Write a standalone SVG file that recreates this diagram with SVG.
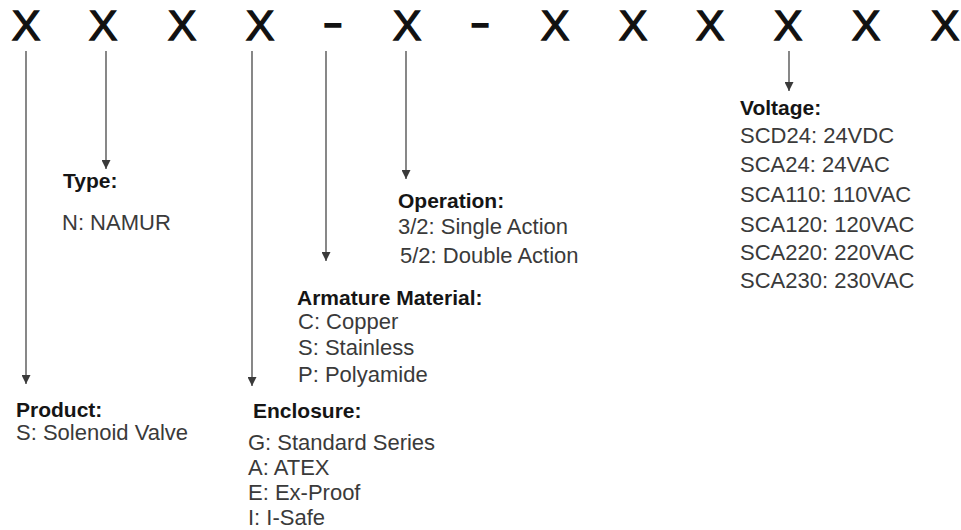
<svg xmlns="http://www.w3.org/2000/svg" width="961" height="530" viewBox="0 0 961 530">
<style>
.code{font-family:"Liberation Sans",Arial,sans-serif;font-size:43px;fill:#111;stroke:#111;stroke-width:1.3;text-anchor:middle}
.dash{font-family:"Liberation Sans",Arial,sans-serif;font-size:30px;fill:#111;stroke:#111;stroke-width:1.3;text-anchor:middle}
.lbl{font-family:"Liberation Sans",Arial,sans-serif;font-size:21px;font-weight:bold;fill:#151515}
.val{font-family:"Liberation Sans",Arial,sans-serif;font-size:22px;fill:#3a3a3a}
.conn line{stroke:#555;stroke-width:1.4;fill:none}
</style>
<defs>
<marker id="ah" viewBox="0 0 10 10" refX="10" refY="5" markerWidth="10" markerHeight="9" markerUnits="userSpaceOnUse" orient="auto">
<path d="M0,0 L10,5 L0,10 z" fill="#3a3a3a"/>
</marker>
</defs>
<rect width="961" height="530" fill="#fff"/>
<g id="code">
<text class="code" x="26" y="40">X</text>
<text class="code" x="103" y="40">X</text>
<text class="code" x="182" y="40">X</text>
<text class="code" x="260" y="40">X</text>
<text class="dash" x="169" y="27.6" transform="scale(1.97,1.297)">-</text>
<text class="code" x="407" y="40">X</text>
<text class="dash" x="243.7" y="27.6" transform="scale(1.97,1.297)">-</text>
<text class="code" x="555" y="40">X</text>
<text class="code" x="633" y="40">X</text>
<text class="code" x="710" y="40">X</text>
<text class="code" x="788" y="40">X</text>
<text class="code" x="866" y="40">X</text>
<text class="code" x="945" y="40">X</text>
</g>
<g class="conn" id="connectors">
<line x1="26" y1="51" x2="26" y2="384" marker-end="url(#ah)"/>
<line x1="106" y1="51" x2="106" y2="169" marker-end="url(#ah)"/>
<line x1="252" y1="51" x2="252" y2="386" marker-end="url(#ah)"/>
<line x1="326" y1="51" x2="326" y2="261" marker-end="url(#ah)"/>
<line x1="406" y1="51" x2="406" y2="179" marker-end="url(#ah)"/>
<line x1="789" y1="51" x2="789" y2="91" marker-end="url(#ah)"/>
</g>
<g id="product">
<text class="lbl" x="16" y="417">Product:</text>
<text class="val" x="16" y="440">S: Solenoid Valve</text>
</g>
<g id="type">
<text class="lbl" x="63" y="188">Type:</text>
<text class="val" x="62" y="230">N: NAMUR</text>
</g>
<g id="enclosure">
<text class="lbl" x="253" y="418">Enclosure:</text>
<text class="val" x="248" y="450">G: Standard Series</text>
<text class="val" x="248" y="475">A: ATEX</text>
<text class="val" x="248" y="500">E: Ex-Proof</text>
<text class="val" x="248" y="525">I: I-Safe</text>
</g>
<g id="armature">
<text class="lbl" x="297" y="305">Armature Material:</text>
<text class="val" x="298" y="329">C: Copper</text>
<text class="val" x="298" y="355">S: Stainless</text>
<text class="val" x="298" y="382">P: Polyamide</text>
</g>
<g id="operation">
<text class="lbl" x="398" y="208">Operation:</text>
<text class="val" x="398" y="234">3/2: Single Action</text>
<text class="val" x="400" y="263">5/2: Double Action</text>
</g>
<g id="voltage">
<text class="lbl" x="740" y="115">Voltage:</text>
<text class="val" x="740" y="143">SCD24: 24VDC</text>
<text class="val" x="740" y="172">SCA24: 24VAC</text>
<text class="val" x="740" y="202">SCA110: 110VAC</text>
<text class="val" x="740" y="232">SCA120: 120VAC</text>
<text class="val" x="740" y="260">SCA220: 220VAC</text>
<text class="val" x="740" y="288">SCA230: 230VAC</text>
</g>
</svg>
